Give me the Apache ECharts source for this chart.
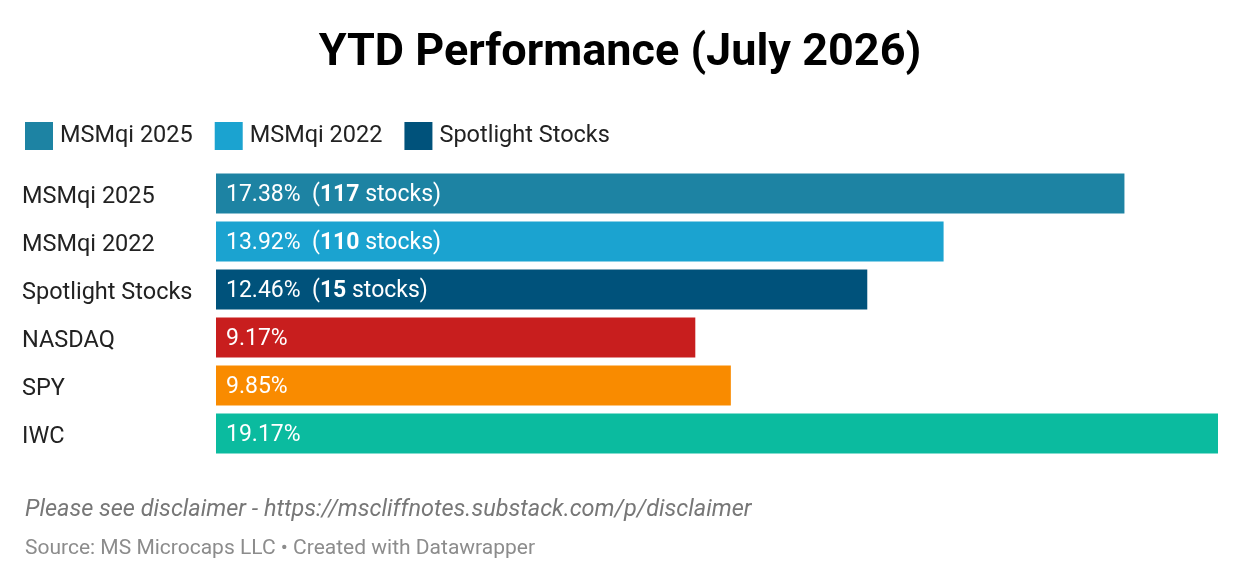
<!DOCTYPE html>
<html><head><meta charset="utf-8">
<script src="https://cdn.jsdelivr.net/npm/echarts@6/dist/echarts.min.js"></script>
<style>html,body{margin:0;background:#fff}#c{width:1240px;height:578px}</style>
</head><body><div id="c"></div>
<script>
const categories = ["MSMqi 2025","MSMqi 2022","Spotlight Stocks","NASDAQ","SPY","IWC"];
const values = [17.38,13.92,12.46,9.17,9.85,19.17];
const stockCounts = [117,110,15,null,null,null];
const colors = ["#1d83a3","#1ba3d0","#00527b","#c81e1e","#f98b00","#0bbb9f"];
const legendNames = ["MSMqi 2025","MSMqi 2022","Spotlight Stocks"];

const chart = echarts.init(document.getElementById('c'));
const F = 'Roboto, sans-serif';
chart.setOption({
  animation:false,
  title:[
    {text:'YTD Performance (July 2026)',left:'center',top:26,textStyle:{fontFamily:F,fontWeight:'bold',fontSize:45,color:'#000'}},
    {text:'Please see disclaimer - https://mscliffnotes.substack.com/p/disclaimer',left:20,top:494,textStyle:{fontFamily:F,fontStyle:'italic',fontWeight:'normal',fontSize:23.5,color:'#777'}},
    {text:'Source: MS Microcaps LLC • Created with Datawrapper',left:20,top:533,textStyle:{fontFamily:F,fontWeight:'normal',fontSize:21,color:'#8c8c8c'}}
  ],
  legend:{left:20,top:117,itemWidth:28,itemHeight:28,itemGap:22,icon:'rect',
    textStyle:{fontFamily:F,fontSize:23.5,color:'#222',padding:[0,0,0,2]},
    data:legendNames.map((n,i)=>({name:n,itemStyle:{color:colors[i]}}))},
  grid:{left:216,right:22,top:173,height:288},
  xAxis:{type:'value',min:0,max:19.17,show:false},
  yAxis:{type:'category',inverse:true,data:categories,
    axisLine:{show:false},axisTick:{show:false},
    axisLabel:{margin:194,align:'left',fontFamily:F,fontSize:23.5,color:'#222',verticalAlign:'middle',padding:[0,0,4,0]}},
  series:[
    {type:'bar',barWidth:40,silent:true,
     data:values.map((v,i)=>({value:v,itemStyle:{color:colors[i]},
       label:{show:true,position:'insideLeft',distance:10,
         formatter: stockCounts[i]!=null ? (v.toFixed(2)+'%  ({b|'+stockCounts[i]+'} stocks)') : v.toFixed(2)+'%',
         fontFamily:F,fontSize:23,color:'#fff',padding:[4,0,0,0],
         rich:{b:{fontWeight:'bold',fontFamily:F,fontSize:23,color:'#fff'}}}})),
    },
    ...legendNames.map((n,i)=>({type:'bar',name:n,data:[],itemStyle:{color:colors[i]}}))
  ]
});
</script></body></html>
